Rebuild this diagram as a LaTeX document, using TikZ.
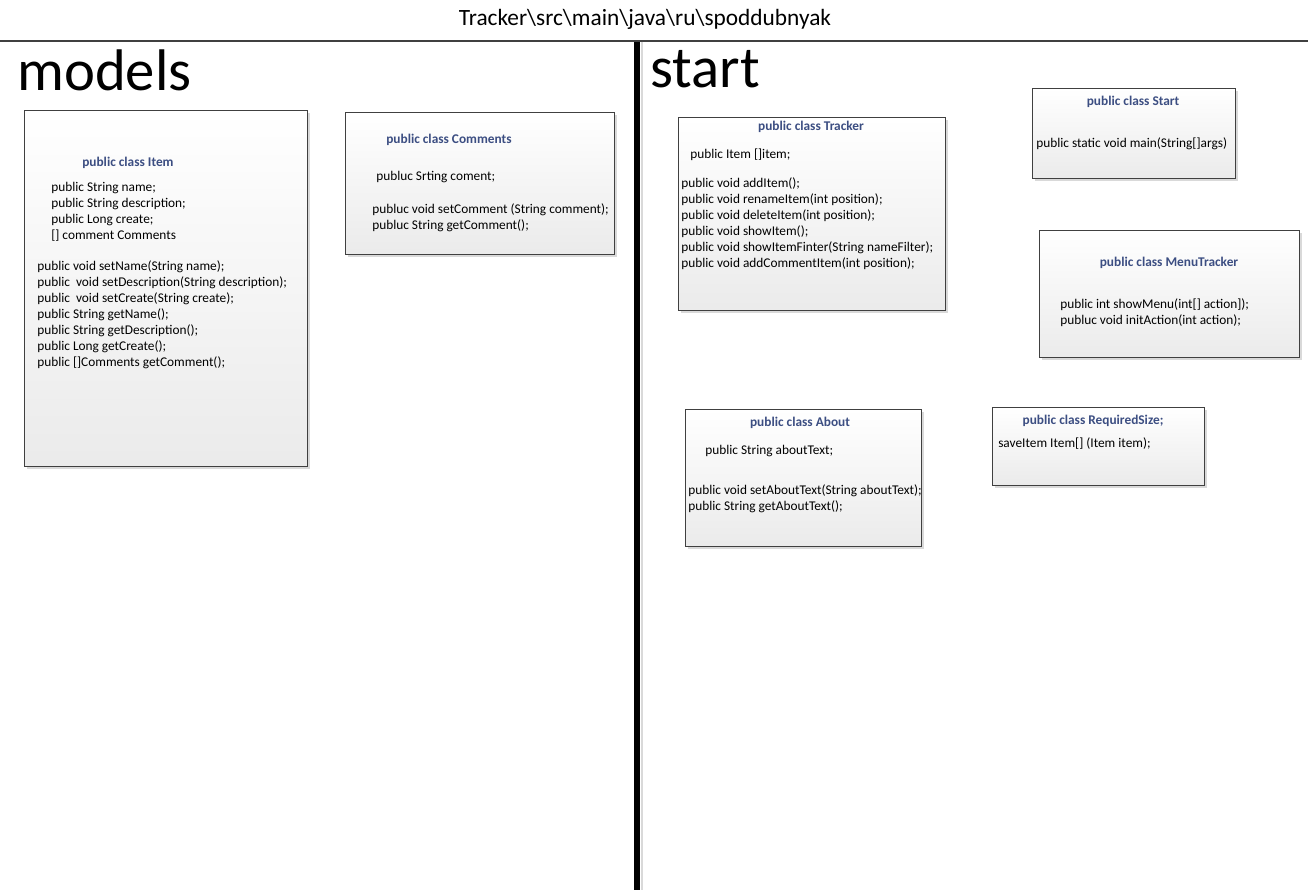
\documentclass[tikz,border=0pt]{standalone}
\usepackage{fontspec}
\setmainfont{Carlito}
\usetikzlibrary{shadows}
\definecolor{hdr}{RGB}{60,78,130}
\begin{document}
\begin{tikzpicture}[x=0.75pt,y=-0.75pt,
  classbox/.style={draw=black!75, line width=0.8pt, top color=white, bottom color=black!8,
    anchor=north west, inner sep=0,
    drop shadow={shadow xshift=1.5pt, shadow yshift=-1.5pt, fill=black!15, opacity=1}},
  box/.style 2 args={minimum width=#1*0.75pt, minimum height=#2*0.75pt},
  hd/.style={font=\fontsize{10}{12}\selectfont\bfseries, text=hdr, inner sep=0, yshift=-1.5pt},
  bd/.style={font=\fontsize{10}{12}\selectfont, align=left, anchor=west, inner sep=0, yshift=-1.5pt},
]
\useasboundingbox[fill=white] (0,0) rectangle (1312,895);

% header and dividers
\node[font=\fontsize{17.5}{20}\selectfont, anchor=base, inner sep=0] (path) at (645,26) {Tracker\textbackslash src\textbackslash main\textbackslash java\textbackslash ru\textbackslash spoddubnyak};
\coordinate (hl) at (0,41);
\coordinate (hr) at (1308,41);
\draw[black!75, line width=0.8pt] (hl) -- (hr);
\coordinate (vt) at (637,42);
\coordinate (vb) at (637,890);
\coordinate (st) at (641.5,42);
\coordinate (sb) at (641.5,890);
\draw[black!15, line width=1.5pt] (st) -- (sb);
\draw[black, line width=3.8pt] (vt) -- (vb);

\node[font=\fontsize{44}{50}\selectfont, anchor=base west, inner sep=0] (models) at (17,91) {models};
\node[font=\fontsize{44}{50}\selectfont, anchor=base west, inner sep=0] (startlbl) at (650,88) {start};

% boxes
\node[classbox, box={283}{356}] (item) at (24,110) {};
\node[classbox, box={269}{142}] (comments) at (345,112) {};
\node[classbox, box={267}{193}] (tracker) at (678,117) {};
\node[classbox, box={203}{90}] (start) at (1032,88) {};
\node[classbox, box={260}{127}] (menu) at (1039,230) {};
\node[classbox, box={236}{137}] (about) at (685,409) {};
\node[classbox, box={212}{78}] (req) at (992,407) {};

% Item
\node[hd, anchor=west] (itemT) at (82,161) {public class Item};
\node[bd] (itemF) at (51,210) {public String name;\\public String description;\\public Long create;\\{[]} comment Comments};
\node[bd] (itemM) at (37,313) {public void setName(String name);\\public\ \ void setDescription(String description);\\public\ \ void setCreate(String create);\\public String getName();\\public String getDescription();\\public Long getCreate();\\public {[]}Comments getComment();};

% Comments
\node[hd, anchor=west] (comT) at (386,138) {public class Comments};
\node[bd] (comF) at (376,175) {publuc Srting coment;};
\node[bd] (comM) at (372,216) {publuc void setComment (String comment);\\publuc String getComment();};

% Tracker
\node[hd] (trT) at (811,125) {public class Tracker};
\node[bd] (trF) at (690,153) {public Item {[]}item;};
\node[bd] (trM) at (681,222) {public void addItem();\\public void renameItem(int position);\\public void deleteItem(int position);\\public void showItem();\\public void showItemFinter(String nameFilter);\\public void addCommentItem(int position);};

% Start
\node[hd] (stT) at (1133,100) {public class Start};
\node[bd] (stM) at (1036,142) {public static void main(String{[]}args)};

% MenuTracker
\node[hd] (mnT) at (1169,261) {public class MenuTracker};
\node[bd] (mnM) at (1060,311) {public int showMenu(int{[]} action]);\\publuc void initAction(int action);};

% About
\node[hd] (abT) at (800,421) {public class About};
\node[bd] (abF) at (705,449) {public String aboutText;};
\node[bd] (abM) at (688,497) {public void setAboutText(String aboutText);\\public String getAboutText();};

% RequiredSize
\node[hd] (rqT) at (1093,419) {public class RequiredSize;};
\node[bd] (rqM) at (998,442) {saveItem Item{[]} (Item item);};
\end{tikzpicture}
\end{document}
